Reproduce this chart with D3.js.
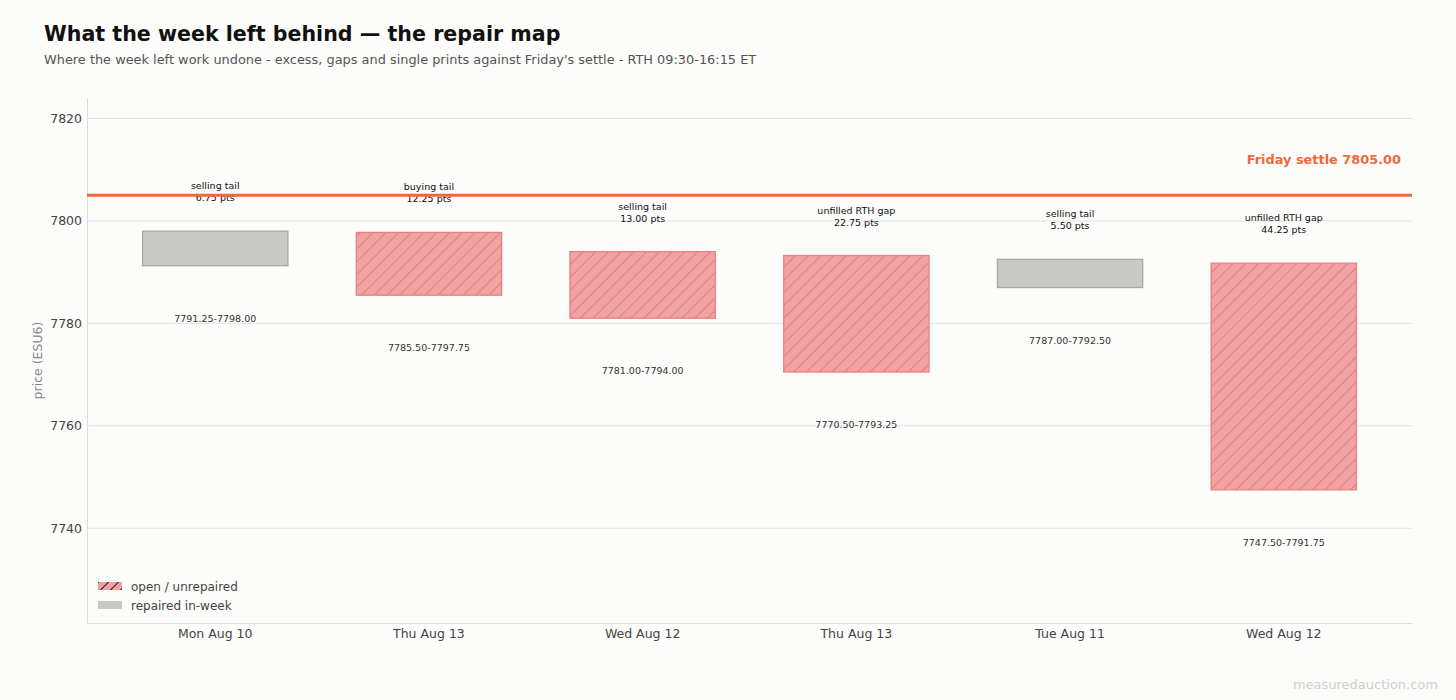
<!DOCTYPE html>
<html>
<head>
<meta charset="utf-8">
<script src="https://cdn.jsdelivr.net/npm/d3@7"></script>
<style>
  body { margin: 0; background: #fcfcfa; }
  svg { display: block; font-family: "DejaVu Sans", sans-serif; }
  .grid line { stroke: #e2e2e0; }
  .axis path { stroke: #dcdcda; }
  .axis text { fill: #444; font-size: 12.5px; font-family: "DejaVu Sans", sans-serif; }
</style>
</head>
<body>
<svg id="chart"></svg>
<script>
// repair map data (ESU6, RTH)
const days = ["Mon Aug 10", "Thu Aug 13", "Wed Aug 12", "Thu Aug 13", "Tue Aug 11", "Wed Aug 12"];
const lows = [7791.25, 7785.50, 7781.00, 7770.50, 7787.00, 7747.50];
const highs = [7798.00, 7797.75, 7794.00, 7793.25, 7792.50, 7791.75];
const kinds = ["selling tail", "buying tail", "selling tail", "unfilled RTH gap", "selling tail", "unfilled RTH gap"];
const repaired = [true, false, false, false, true, false];
const settle = 7805.00;
const yTicks = [7740, 7760, 7780, 7800, 7820];
const yDomain = [7721.5, 7824];

const width = 1456, height = 700;
const margin = { top: 98, right: 44, bottom: 77, left: 87 };
const innerW = width - margin.left - margin.right;
const innerH = height - margin.top - margin.bottom;

const svg = d3.select("#chart").attr("width", width).attr("height", height);

svg.append("rect").attr("width", width).attr("height", height).attr("fill", "#fcfcfa");

// hatch pattern for open levels
const defs = svg.append("defs");
const pat = defs.append("pattern")
    .attr("id", "hatch")
    .attr("patternUnits", "userSpaceOnUse")
    .attr("width", 9).attr("height", 9)
    .attr("patternTransform", "rotate(45)");
pat.append("rect").attr("width", 9).attr("height", 9).attr("fill", "#f1a2a2");
pat.append("line").attr("x1", 0).attr("y1", 0).attr("x2", 0).attr("y2", 9)
    .attr("stroke", "#e26e6e").attr("stroke-width", 1.4);

const legPat = defs.append("pattern")
    .attr("id", "hatchLegend")
    .attr("patternUnits", "userSpaceOnUse")
    .attr("width", 7).attr("height", 7)
    .attr("patternTransform", "rotate(45)");
legPat.append("rect").attr("width", 7).attr("height", 7).attr("fill", "#f0a0a0");
legPat.append("line").attr("x1", 0).attr("y1", 0).attr("x2", 0).attr("y2", 7)
    .attr("stroke", "#111").attr("stroke-width", 2);

// titles
svg.append("text").attr("x", 44).attr("y", 41)
    .attr("font-size", 20.6).attr("font-weight", "bold").attr("fill", "#111")
    .text("What the week left behind \u2014 the repair map");
svg.append("text").attr("x", 44).attr("y", 64)
    .attr("font-size", 12.9).attr("fill", "#555")
    .text("Where the week left work undone - excess, gaps and single prints against Friday's settle - RTH 09:30-16:15 ET");

const g = svg.append("g").attr("transform", `translate(${margin.left},${margin.top})`);

const x = d3.scaleBand()
    .domain(d3.range(days.length))
    .range([0, innerW])
    .paddingInner(0.32)
    .paddingOuter(0.26);

const y = d3.scaleLinear().domain(yDomain).range([innerH, 0]);

// gridlines
g.append("g").attr("class", "grid")
    .selectAll("line")
    .data(yTicks)
    .join("line")
    .attr("x1", 0).attr("x2", innerW)
    .attr("y1", d => y(d)).attr("y2", d => y(d));

// axes
const yAxisG = g.append("g").attr("class", "axis")
    .call(d3.axisLeft(y).tickValues(yTicks).tickFormat(d3.format("d"))
        .tickSize(0).tickPadding(5).tickSizeOuter(0));
const xAxisG = g.append("g").attr("class", "axis")
    .attr("transform", `translate(0,${innerH})`)
    .call(d3.axisBottom(x).tickFormat(i => days[i]).tickSize(0).tickPadding(6).tickSizeOuter(0));

// y axis title
svg.append("text")
    .attr("transform", `translate(42,${margin.top + innerH / 2}) rotate(-90)`)
    .attr("text-anchor", "middle")
    .attr("font-size", 12.5).attr("fill", "#888")
    .text("price (ESU6)");

// annotations (drawn under the settle line)
const idx = d3.range(days.length);
const ann = g.append("g").attr("font-size", 9.5).attr("text-anchor", "middle");
ann.selectAll("text.kind")
    .data(idx)
    .join("text")
    .attr("class", "kind")
    .attr("x", i => x(i) + x.bandwidth() / 2)
    .attr("y", i => y(highs[i]) - 42)
    .attr("fill", "#111")
    .text(i => kinds[i]);
ann.selectAll("text.pts")
    .data(idx)
    .join("text")
    .attr("class", "pts")
    .attr("x", i => x(i) + x.bandwidth() / 2)
    .attr("y", i => y(highs[i]) - 30)
    .attr("fill", "#111")
    .text(i => (highs[i] - lows[i]).toFixed(2) + " pts");
ann.selectAll("text.range")
    .data(idx)
    .join("text")
    .attr("class", "range")
    .attr("x", i => x(i) + x.bandwidth() / 2)
    .attr("y", i => y(lows[i]) + 56)
    .attr("fill", "#333")
    .text(i => lows[i].toFixed(2) + "-" + highs[i].toFixed(2));

// level boxes
g.selectAll("rect.level")
    .data(idx)
    .join("rect")
    .attr("class", "level")
    .attr("x", i => x(i))
    .attr("width", x.bandwidth())
    .attr("y", i => y(highs[i]))
    .attr("height", i => y(lows[i]) - y(highs[i]))
    .attr("fill", i => repaired[i] ? "#c8c8c6" : "url(#hatch)")
    .attr("stroke", i => repaired[i] ? "#a8a8a6" : "#ea8080")
    .attr("stroke-width", 1.3);

// settle line
g.append("line")
    .attr("x1", 0).attr("x2", innerW)
    .attr("y1", y(settle)).attr("y2", y(settle))
    .attr("stroke", "#ec6a3a").attr("stroke-width", 3);
g.append("text")
    .attr("x", innerW - 11).attr("y", y(settle) - 31)
    .attr("text-anchor", "end")
    .attr("font-size", 12.9).attr("font-weight", "bold").attr("fill", "#ec6a3a")
    .text("Friday settle " + settle.toFixed(2));

// legend
const legend = g.append("g").attr("transform", "translate(11,484)");
const legendItems = [
    { label: "open / unrepaired", fill: "url(#hatchLegend)" },
    { label: "repaired in-week", fill: "#c8c8c6" }
];
legendItems.forEach((d, i) => {
    const row = legend.append("g").attr("transform", `translate(0,${i * 19})`);
    row.append("rect").attr("width", 24).attr("height", 8).attr("fill", d.fill);
    row.append("text").attr("x", 33).attr("y", 8.5)
        .attr("font-size", 12).attr("fill", "#444").text(d.label);
});

// watermark
svg.append("text")
    .attr("x", 1438).attr("y", 689)
    .attr("text-anchor", "end")
    .attr("font-size", 13).attr("fill", "#cfcfcd")
    .text("measuredauction.com");
</script>
</body>
</html>
